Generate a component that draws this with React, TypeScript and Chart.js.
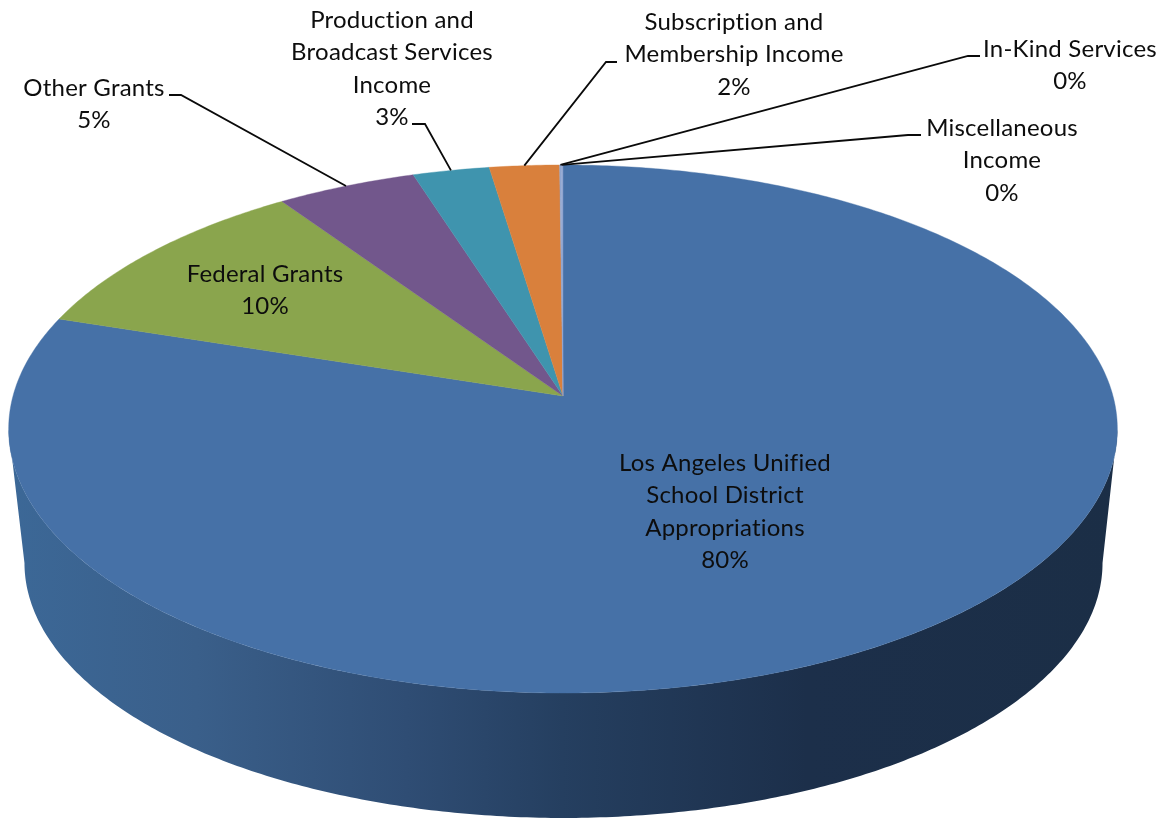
import React, { useEffect, useRef } from "react";
import { Chart, registerables } from "chart.js";

Chart.register(...registerables);

// Budget revenue shares, clockwise from twelve o'clock.
const categories = [
  "Los Angeles Unified School District Appropriations",
  "Federal Grants",
  "Other Grants",
  "Production and Broadcast Services Income",
  "Subscription and Membership Income",
  "In-Kind Services",
  "Miscellaneous Income",
];
const shares = [79.98, 10.49, 4.6, 2.52, 2.3, 0.05, 0.06];
const sliceColors = ["#4671a7", "#8aa54d", "#72578c", "#3f94ae", "#d9803c", "#8fa5cf", "#8fa5cf"];

// How each category name wraps in its data label.
const labelLines = [
  ["Los Angeles Unified", "School District", "Appropriations"],
  ["Federal Grants"],
  ["Other Grants"],
  ["Production and", "Broadcast Services", "Income"],
  ["Subscription and", "Membership Income"],
  ["In-Kind Services"],
  ["Miscellaneous", "Income"],
];

// Label block placement: horizontal centre and middle of the first line.
const labelAnchors = [
  [725, 463],
  [265, 274],
  [94, 88],
  [392, 20],
  [734, 22],
  [1070, 49],
  [1002, 128],
];

// Leader lines: start beside the label, then a knee, then on to the slice rim.
const leaderPaths: (number[][] | null)[] = [
  null,
  null,
  [[169, 95], [181, 95]],
  [[412, 124], [425, 124]],
  [[617, 62], [606, 62]],
  [[980, 56], [968, 56]],
  [[921, 135], [908, 135]],
];

const sideGradientStops: [number, string][] = [
  [0, "#3c6897"],
  [0.17, "#3a5f8a"],
  [0.36, "#2f4d74"],
  [0.5, "#253f60"],
  [0.72, "#1c2f4a"],
  [1, "#1b2e46"],
];

const FONT = '24px Lato, "Open Sans", sans-serif';
const LETTER_SPACING = "0.22px";
const LINE_HEIGHT = 32.5;
const PERSPECTIVE = 0.125;

// A plane of the pie seen in perspective: centre, horizontal and vertical scale.
const topFace = { cx: 563, cy: 396, rx: 550, ry: 259.9 };
const baseFace = { cx: 563.5, cy: 531.1, rx: 534.8, ry: 251 };

function project(face: typeof topFace, angle: number): [number, number] {
  const u = Math.cos(angle);
  const v = -Math.sin(angle);
  const w = 1 + PERSPECTIVE * v;
  return [face.cx + (face.rx * u) / w, face.cy - (face.ry * v) / w];
}

function traceRim(ctx: CanvasRenderingContext2D, face: typeof topFace, from: number, to: number, moveFirst: boolean) {
  const steps = Math.max(2, Math.ceil(Math.abs(to - from) / 0.01));
  for (let i = 0; i <= steps; i++) {
    const [x, y] = project(face, from + ((to - from) * i) / steps);
    if (i === 0 && moveFirst) ctx.moveTo(x, y);
    else ctx.lineTo(x, y);
  }
}

// Replaces the flat arc drawing with a tilted, extruded pie built from the
// angles that the pie controller computed for every slice.
const tiltedPie = {
  id: "tiltedPie",
  beforeDatasetsDraw(chart: Chart) {
    const ctx = chart.ctx;
    const arcs = chart.getDatasetMeta(0).data as any[];
    const silhouette = Math.asin(PERSPECTIVE);

    ctx.save();
    ctx.fillStyle = "#ffffff";
    ctx.fillRect(0, 0, chart.width, chart.height);

    const gradient = ctx.createLinearGradient(8, 0, 1117, 0);
    sideGradientStops.forEach(([at, color]) => gradient.addColorStop(at, color));
    arcs.forEach((arc) => {
      const lo = Math.max(arc.startAngle, silhouette);
      const hi = Math.min(arc.endAngle, Math.PI - silhouette);
      if (hi <= lo) return;
      ctx.beginPath();
      traceRim(ctx, topFace, lo, hi, true);
      traceRim(ctx, baseFace, hi, lo, false);
      ctx.closePath();
      ctx.fillStyle = gradient;
      ctx.fill();
    });

    arcs.forEach((arc, i) => {
      ctx.beginPath();
      ctx.moveTo(topFace.cx, topFace.cy);
      traceRim(ctx, topFace, arc.startAngle, arc.endAngle, false);
      ctx.closePath();
      ctx.fillStyle = sliceColors[i];
      ctx.strokeStyle = sliceColors[i];
      ctx.lineWidth = 0.4;
      ctx.fill();
      ctx.stroke();
    });

    ctx.lineWidth = 1.8;
    ctx.strokeStyle = "#0a0a0a";
    ctx.lineJoin = "miter";
    leaderPaths.forEach((path, i) => {
      if (!path) return;
      const arc = arcs[i];
      const [x, y] = project(topFace, (arc.startAngle + arc.endAngle) / 2);
      ctx.beginPath();
      ctx.moveTo(path[0][0], path[0][1]);
      ctx.lineTo(path[1][0], path[1][1]);
      ctx.lineTo(x, y);
      ctx.stroke();
    });

    ctx.font = FONT;
    (ctx as any).letterSpacing = LETTER_SPACING;
    ctx.fillStyle = "#0d0d0d";
    ctx.textAlign = "center";
    ctx.textBaseline = "middle";
    categories.forEach((_, i) => {
      const [x, y] = labelAnchors[i];
      const lines = [...labelLines[i], `${Math.round(shares[i])}%`];
      lines.forEach((line, n) => ctx.fillText(line, x, y + n * LINE_HEIGHT));
    });
    ctx.restore();
    return false;
  },
};

export default function App() {
  const canvasRef = useRef<HTMLCanvasElement>(null);

  useEffect(() => {
    const chart = new Chart(canvasRef.current!, {
      type: "pie",
      data: {
        labels: categories,
        datasets: [{ data: shares, backgroundColor: sliceColors, borderWidth: 0 }],
      },
      options: {
        animation: false,
        responsive: false,
        events: [],
        plugins: { legend: { display: false }, tooltip: { enabled: false } },
      },
      plugins: [tiltedPie],
    });
    return () => chart.destroy();
  }, []);

  return (
    <canvas
      ref={canvasRef}
      width={1164}
      height={819}
      style={{ position: "absolute", left: 0, top: 0, display: "block" }}
    />
  );
}
